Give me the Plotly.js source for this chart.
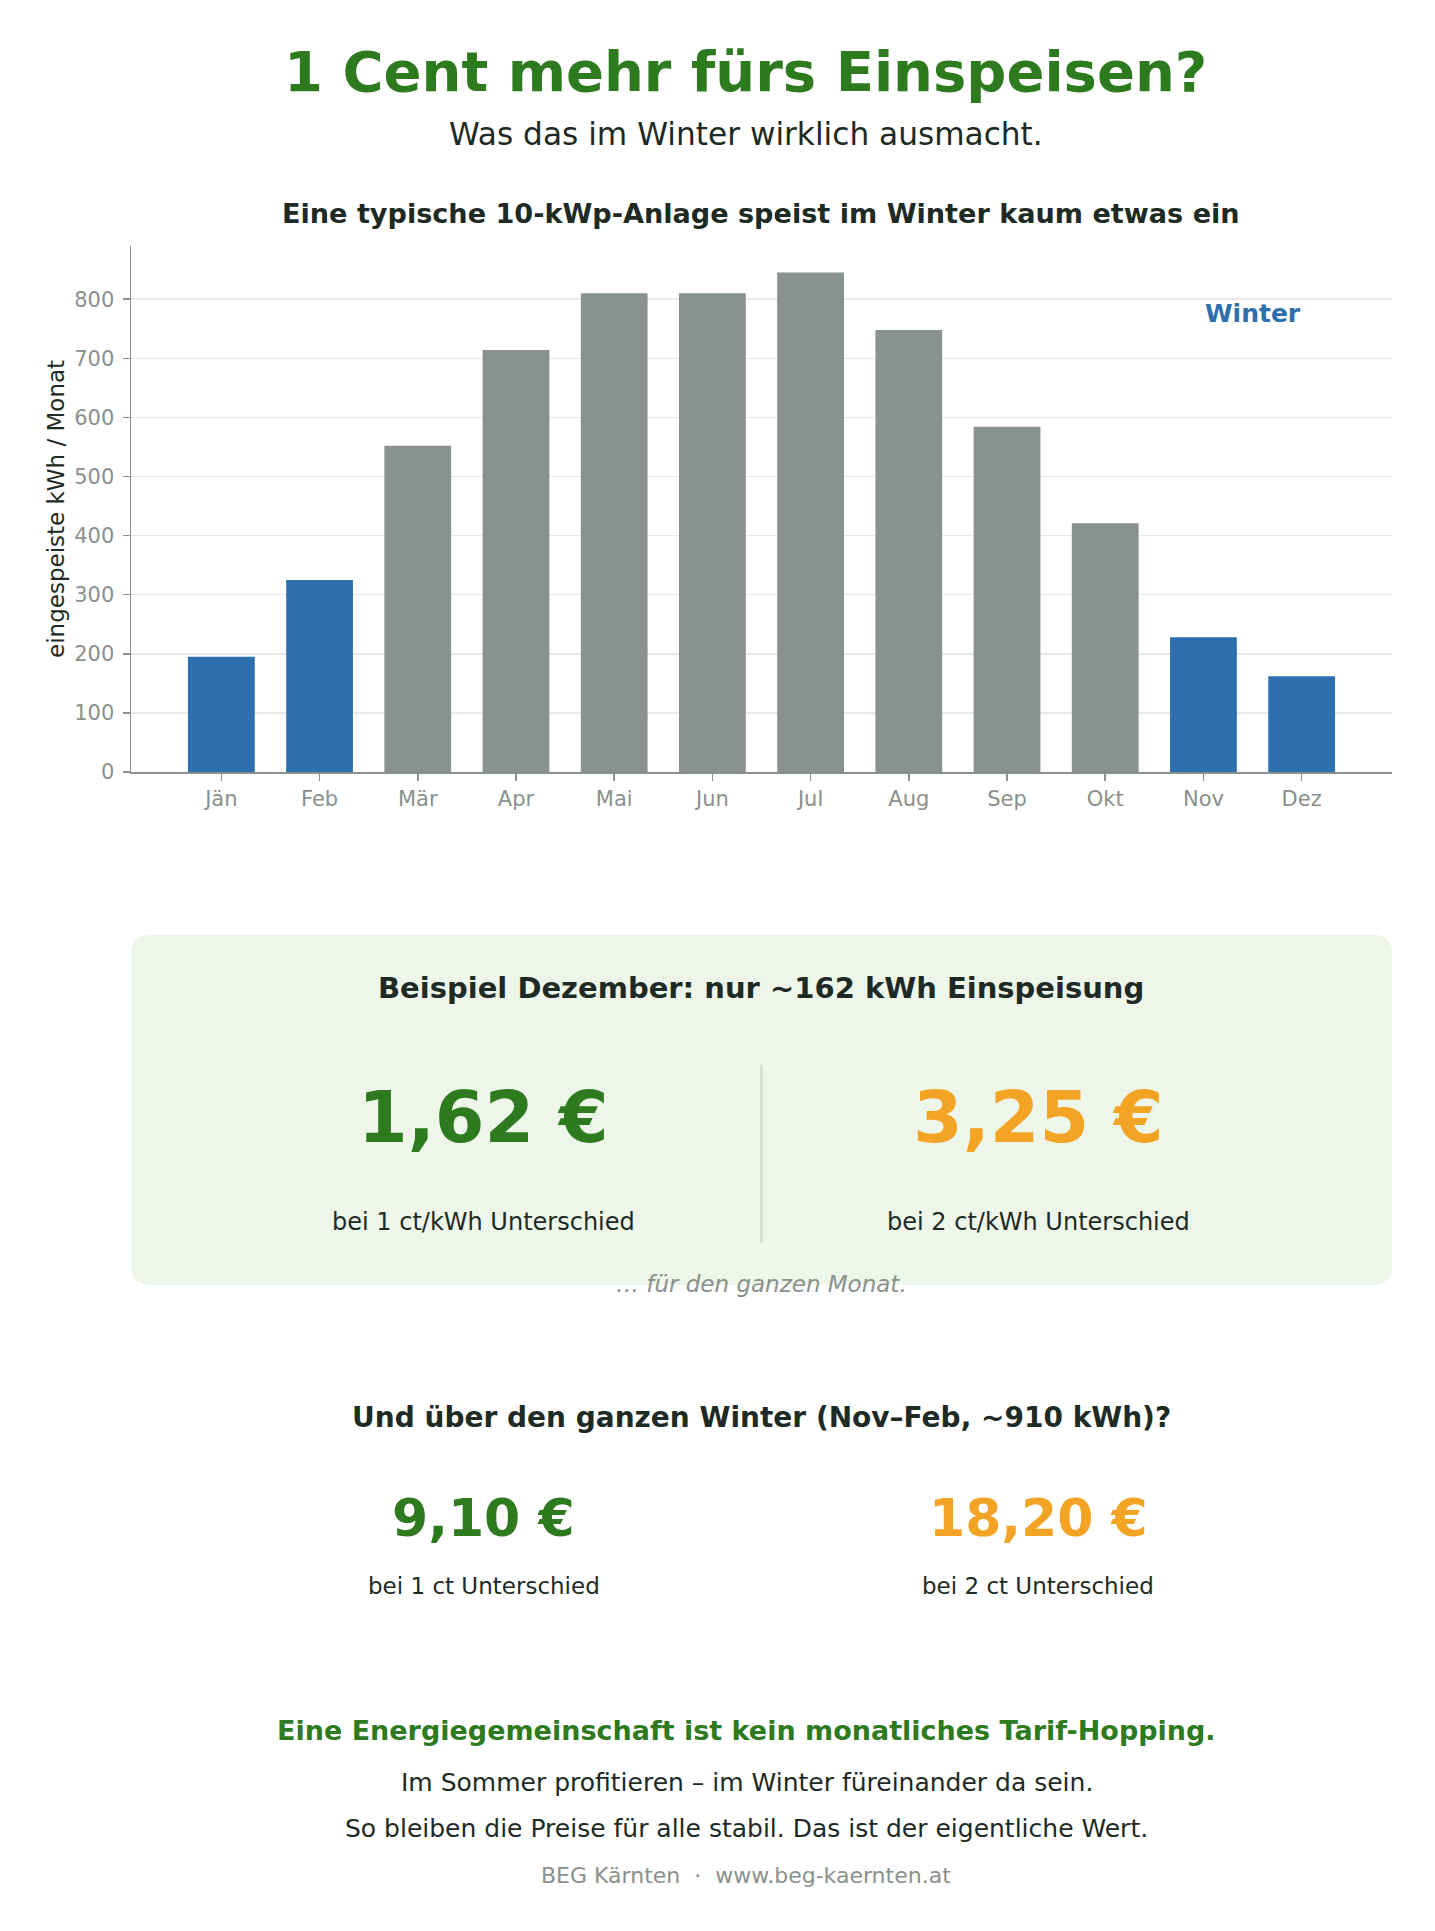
<!DOCTYPE html>
<html>
<head>
<meta charset="utf-8">
<script src="https://cdn.plot.ly/plotly-3.0.1.min.js"></script>
<style>
html,body{margin:0;padding:0;background:#fff;}
#chart{width:1435px;height:1931px;}
</style>
</head>
<body>
<div id="chart"></div>
<script>
// ---- data ----
const months = ["Jän","Feb","Mär","Apr","Mai","Jun","Jul","Aug","Sep","Okt","Nov","Dez"];
const feedIn = [195, 325, 552, 714, 810, 810, 845, 748, 584, 421, 228, 162];
const isWinter = [true, true, false, false, false, false, false, false, false, false, true, true];
const yTicks = [0, 100, 200, 300, 400, 500, 600, 700, 800];

const decemberKwh = 162;
const winterKwh = 910;
const decValues = ["1,62 €", "3,25 €"];
const winterValues = ["9,10 €", "18,20 €"];
const decLabels = ["bei 1 ct/kWh Unterschied", "bei 2 ct/kWh Unterschied"];
const winterLabels = ["bei 1 ct Unterschied", "bei 2 ct Unterschied"];

// ---- styling ----
const FONT = "DejaVu Sans";
const GREEN = "#2e7a1f";
const ORANGE = "#f4a425";
const BLUE = "#2e6fae";
const GREY = "#8a928d";
const DARK = "#1e2a24";
const MUTED = "#8a908c";

const W = 1435, H = 1931;
const L = 130.6, R = 1392.5, T = 246.2, B = 772.5;
const px = X => (X - L) / (R - L);
const py = Y => (B - Y) / (B - T);

function ann(text, X, Y, size, color, opts) {
  opts = opts || {};
  return Object.assign({
    text: text, xref: "paper", yref: "paper", x: px(X), y: py(Y),
    xanchor: "center", yanchor: "middle", showarrow: false,
    font: {family: FONT, size: size, color: color}
  }, opts);
}

const annotations = [
  ann("<b>1 Cent mehr fürs Einspeisen?</b>", 745.6, 71.8, 56, GREEN),
  ann("Was das im Winter wirklich ausmacht.", 745.6, 134.6, 31.2, DARK),
  ann("<b>Eine typische 10-kWp-Anlage speist im Winter kaum etwas ein</b>", 761.5, 213.3, 27.1, DARK),
  ann("<b>Winter</b>", 1253, 314, 25, BLUE),
  ann("eingespeiste kWh / Monat", 55.5, (T + B) / 2, 23, DARK, {textangle: -90}),
  ann("<b>Beispiel Dezember: nur ~" + decemberKwh + " kWh Einspeisung</b>", 761.5, 988.8, 29, DARK),
  ann("<b>" + decValues[0] + "</b>", 483.4, 1118.4, 71.4, GREEN),
  ann("<b>" + decValues[1] + "</b>", 1038.6, 1118.4, 71.4, ORANGE),
  ann(decLabels[0], 483.4, 1223, 24, DARK),
  ann(decLabels[1], 1038.6, 1223, 24, DARK),
  ann("<i>… für den ganzen Monat.</i>", 761.5, 1284.8, 23, MUTED),
  ann("<b>Und über den ganzen Winter (Nov–Feb, ~" + winterKwh + " kWh)?</b>", 761.5, 1418.4, 28, DARK),
  ann("<b>" + winterValues[0] + "</b>", 483.4, 1519, 52, GREEN),
  ann("<b>" + winterValues[1] + "</b>", 1038.6, 1519, 52, ORANGE),
  ann(winterLabels[0], 483.4, 1586.9, 23, DARK),
  ann(winterLabels[1], 1038.6, 1586.9, 23, DARK),
  ann("<b>Eine Energiegemeinschaft ist kein monatliches Tarif-Hopping.</b>", 746.6, 1731.4, 27, GREEN),
  ann("Im Sommer profitieren – im Winter füreinander da sein.", 746.6, 1783.2, 25, DARK),
  ann("So bleiben die Preise für alle stabil. Das ist der eigentliche Wert.", 746.6, 1830, 25, DARK),
  ann("BEG Kärnten  ·  www.beg-kaernten.at", 745.6, 1876.9, 22, MUTED)
];

// rounded box
function roundRect(x0, y0, x1, y1, r) {
  const rx = r / (R - L), ry = r / (B - T);
  const X0 = px(x0), X1 = px(x1), Y0 = py(y0), Y1 = py(y1); // Y0 top (larger)
  return `M ${X0 + rx},${Y0} L ${X1 - rx},${Y0} Q ${X1},${Y0} ${X1},${Y0 - ry} ` +
         `L ${X1},${Y1 + ry} Q ${X1},${Y1} ${X1 - rx},${Y1} ` +
         `L ${X0 + rx},${Y1} Q ${X0},${Y1} ${X0},${Y1 + ry} ` +
         `L ${X0},${Y0 - ry} Q ${X0},${Y0} ${X0 + rx},${Y0} Z`;
}

const shapes = [
  {type: "path", xref: "paper", yref: "paper", path: roundRect(130.6, 935, 1392.5, 1285.8, 20),
   fillcolor: "#eef5e9", line: {width: 0}, layer: "below"},
  {type: "line", xref: "paper", yref: "paper", x0: px(761.5), x1: px(761.5), y0: py(1065.5), y1: py(1243),
   line: {color: "#d3ddc9", width: 2.5}}
];

const trace = {
  type: "bar", x: months, y: feedIn, width: 0.68,
  marker: {color: isWinter.map(w => w ? BLUE : GREY), line: {width: 0}},
  hoverinfo: "x+y"
};

const layout = {
  width: W, height: H,
  margin: {l: L, r: W - R, t: T, b: H - B, pad: 0},
  paper_bgcolor: "#fff", plot_bgcolor: "#fff",
  showlegend: false,
  font: {family: FONT, color: MUTED},
  xaxis: {
    type: "category", range: [-0.92, 11.92],
    showline: true, linecolor: "#8a908c", linewidth: 1.5,
    ticks: "outside", ticklen: 7, tickwidth: 1.5, tickcolor: "#8a908c",
    tickfont: {family: FONT, size: 21, color: MUTED},
    showgrid: false, zeroline: false, fixedrange: true
  },
  yaxis: {
    range: [0, 890], tickvals: yTicks, ticktext: yTicks.map(String),
    showline: true, linecolor: "#8a908c", linewidth: 1.5,
    ticks: "outside", ticklen: 7, tickwidth: 1.5, tickcolor: "#8a908c",
    ticklabelstandoff: 4,
    tickfont: {family: FONT, size: 21, color: MUTED},
    showgrid: true, gridcolor: "#e6e9e7", gridwidth: 1.5,
    zeroline: false, fixedrange: true
  },
  annotations: annotations,
  shapes: shapes
};

Plotly.newPlot("chart", [trace], layout, {displayModeBar: false, staticPlot: true});
</script>
</body>
</html>
